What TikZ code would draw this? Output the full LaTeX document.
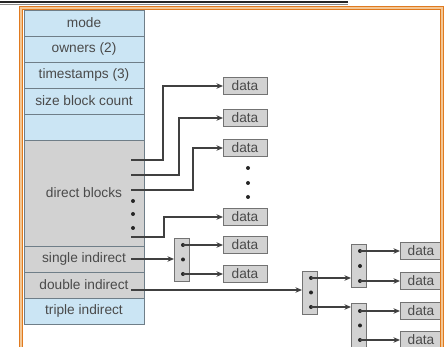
\documentclass[tikz,border=0pt]{standalone}
\usepackage{fontspec}
\setmainfont{Liberation Sans}
\usetikzlibrary{arrows.meta,positioning}
\definecolor{inodeblue}{HTML}{CBE5F4}
\definecolor{blockgray}{HTML}{D2D2D2}
\definecolor{rimgray}{HTML}{6F7E88}
\definecolor{labelgray}{HTML}{4A4A4A}
\definecolor{frameorange}{HTML}{E07A1F}
\definecolor{framepeach}{HTML}{F3C795}
\begin{document}
\begin{tikzpicture}[
    x=1pt, y=-1pt,
    every node/.style={font=\fontsize{13.7}{16}\selectfont, text=labelgray,
                       inner sep=0pt, outer sep=0pt},
    field/.style={draw=rimgray, line width=0.9pt, fill=inodeblue,
                  minimum width=120pt, minimum height=26pt},
    ptrs/.style={field, fill=blockgray},
    datablk/.style={draw=black!55, line width=0.9pt, fill=blockgray,
                    minimum width=44pt, minimum height=17pt},
    idxblk/.style={draw=black!55, line width=0.9pt, fill=blockgray,
                   minimum width=15pt},
    link/.style={draw=black!75, line width=1.1pt},
    arr/.style={link, -{Stealth[length=6.5pt, width=5.5pt]}},
    dot/.style={fill=black!85},
  ]
    \useasboundingbox (0,0) rectangle (448,347);
    \clip (0,0) rectangle (448,347);
    \draw[black!85, line width=1.6pt] (0,1.8) -- (348,1.8);
    \draw[black!45, line width=0.9pt] (0,4.2) -- (348,4.2);

    \node[field] (mode) at (84,23) {mode};
    \node[field, below=0pt of mode] (owners) {owners (2)};
    \node[field, below=0pt of owners] (stamps) {timestamps (3)};
    \node[field, below=0pt of stamps] (size) {size block count};
    \node[field, below=0pt of size] (blank) {};
    \node[ptrs, below=0pt of blank, minimum height=106pt] (direct) {direct blocks};
    \node[ptrs, below=0pt of direct] (single) {single indirect};
    \node[ptrs, below=0pt of single] (double) {double indirect};
    \node[field, below=0pt of double] (triple) {triple indirect};

    \node[datablk] (data1) at (245,86) {data};
    \node[datablk] (data2) at (245,118) {data};
    \node[datablk] (data3) at (245,148) {data};
    \node[datablk] (data4) at (245,217) {data};
    \node[datablk] (data5) at (245,245) {data};
    \node[datablk] (data6) at (245,274) {data};
    \node[datablk, minimum width=42pt] (data7) at (421,251) {data};
    \node[datablk, minimum width=42pt] (data8) at (421,281) {data};
    \node[datablk, minimum width=42pt] (data9) at (421,311) {data};
    \node[datablk, minimum width=42pt] (data10) at (421,340) {data};

    \node[idxblk, minimum height=43pt] (sgl) at (181.5,259.5) {};
    \node[idxblk, minimum height=43pt] (dbl1) at (309.5,292.5) {};
    \node[idxblk, minimum height=43pt] (dbl2) at (358.5,265.5) {};
    \node[idxblk, minimum height=46pt] (dbl3) at (358.5,326) {};

    \foreach \y in {201,214,228} \fill[dot] (133,\y) circle (2pt);
    \foreach \y in {168,183,197} \fill[dot] (248,\y) circle (2pt);

    \coordinate (d1) at (131,160);
    \coordinate (d2) at (131,175);
    \coordinate (d3) at (131,190);
    \coordinate (d4) at (131,237);
    \draw[arr] (d1) -- ++(32,0) |- (data1);
    \draw[arr] (d2) -- ++(48,0) |- (data2);
    \draw[arr] (d3) -- ++(62,0) |- (data3);
    \draw[arr] (d4) -- ++(33,0) |- (data4);

    \coordinate (s0) at (131,259);
    \coordinate (s1) at (183,245);
    \coordinate (s2) at (183,259.5);
    \coordinate (s3) at (183,274);
    \draw[arr] (s0) -- (sgl.west |- s0);
    \foreach \p in {s1,s2,s3} \fill[dot] (\p) circle (2pt);
    \draw[arr] (s1) -- (data5);
    \draw[arr] (s3) -- (data6);

    \coordinate (t0) at (131,290);
    \coordinate (t1) at (311,278);
    \coordinate (t2) at (311,292.5);
    \coordinate (t3) at (311,307);
    \draw[arr] (t0) -- (dbl1.west |- t0);
    \foreach \p in {t1,t2,t3} \fill[dot] (\p) circle (2pt);
    \draw[arr] (t1) -- (dbl2.west |- t1);
    \draw[arr] (t3) -- (dbl3.west |- t3);

    \coordinate (u1) at (360,251);
    \coordinate (u2) at (360,266);
    \coordinate (u3) at (360,281);
    \foreach \p in {u1,u2,u3} \fill[dot] (\p) circle (2pt);
    \draw[arr] (u1) -- (data7);
    \draw[arr] (u3) -- (data8);

    \coordinate (v1) at (360,311);
    \coordinate (v2) at (360,325.5);
    \coordinate (v3) at (360,340);
    \foreach \p in {v1,v2,v3} \fill[dot] (\p) circle (2pt);
    \draw[arr] (v1) -- (data9);
    \draw[arr] (v3) -- (data10);

    \draw[frameorange, line width=3.6pt] (21,352) -- (21,8) -- (442,8) -- (442,352);
    \draw[framepeach, line width=1.2pt] (21,352) -- (21,8) -- (442,8) -- (442,352);
\end{tikzpicture}
\end{document}
